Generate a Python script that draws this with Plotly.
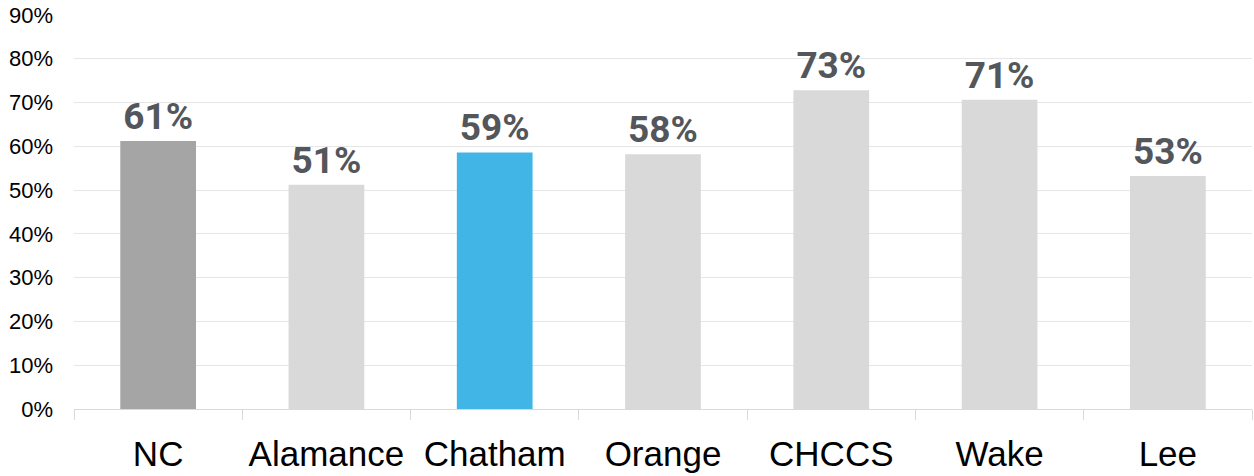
import plotly.graph_objects as go

categories = ["NC", "Alamance", "Chatham", "Orange", "CHCCS", "Wake", "Lee"]
values = [61.2, 51.2, 58.6, 58.2, 72.8, 70.6, 53.2]
bar_colors = ["#A5A5A5", "#D9D9D9", "#41B6E6", "#D9D9D9", "#D9D9D9", "#D9D9D9", "#D9D9D9"]
y_ticks = [0, 10, 20, 30, 40, 50, 60, 70, 80, 90]
y_tick_labels = [f"{t}%" for t in y_ticks]

fig = go.Figure(go.Bar(
    x=categories,
    y=values,
    marker=dict(color=bar_colors, line=dict(width=0)),
    width=0.45,
    texttemplate="%{y:.0f}%",
    textposition="outside",
    cliponaxis=False,
    textfont=dict(family="Roboto, Arial, sans-serif", size=37, color="#53565A", weight="bold"),
))

fig.update_layout(
    width=1254, height=476,
    margin=dict(l=74, r=2, t=14, b=67),
    paper_bgcolor="white", plot_bgcolor="white",
    showlegend=False,
    font=dict(family="Liberation Sans, Arial, sans-serif", color="#000000"),
)
fig.update_yaxes(
    range=[0, 90.2], tickvals=y_ticks, ticktext=y_tick_labels,
    showgrid=True, gridcolor="#E6E6E6", gridwidth=1,
    zeroline=False, showline=False,
    tickfont=dict(size=22, color="#000000"),
    ticks="", ticklabelstandoff=20, automargin=False,
)
fig.update_xaxes(
    showline=True, linecolor="#D9D9D9", linewidth=1,
    ticks="outside", tickson="boundaries", ticklen=10, tickcolor="#D9D9D9",
    tickfont=dict(size=35, color="#000000"),
    ticklabelstandoff=14, automargin=False,
)

fig.write_html(
    "out.html",
    config={"displayModeBar": False},
    post_script="document.body.style.margin='0';document.body.style.overflow='hidden';",
)
